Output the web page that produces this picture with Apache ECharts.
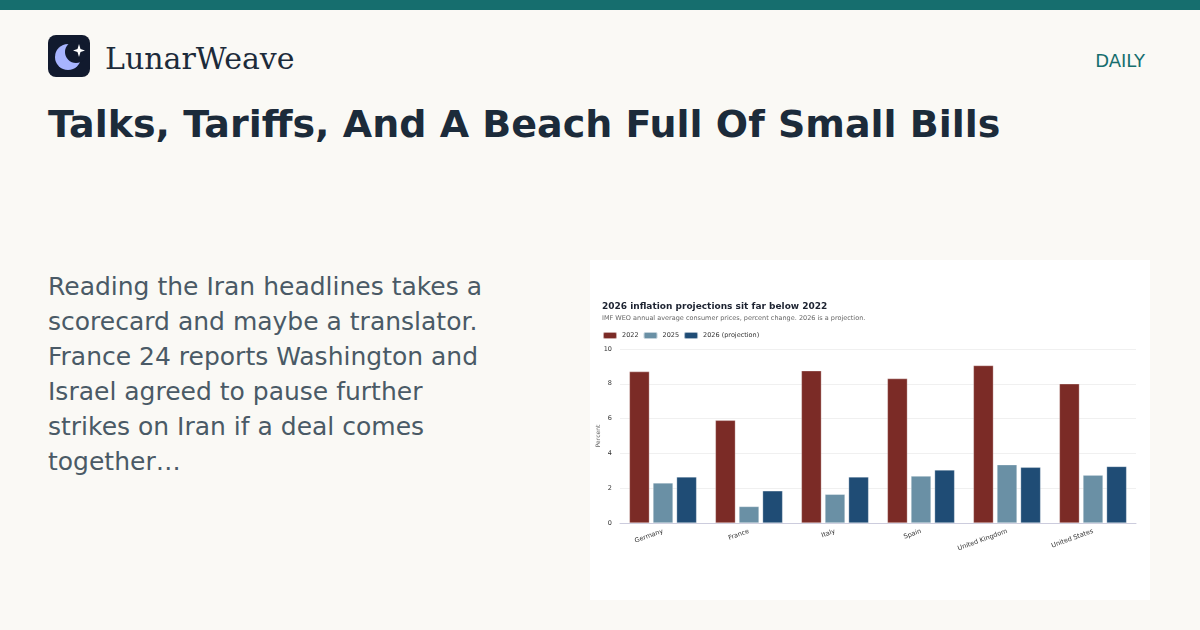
<!DOCTYPE html>
<html><head><meta charset="utf-8">
<script src="https://cdn.jsdelivr.net/npm/echarts@6/dist/echarts.min.js"></script>
<style>
body{margin:0;width:1200px;height:630px;background:#faf9f5;font-family:"DejaVu Sans",sans-serif;position:relative;overflow:hidden}
.bar{position:absolute;left:0;top:0;width:1200px;height:10px;background:#166e6e}
.logo{position:absolute;left:48px;top:35px;width:42px;height:42px;border-radius:8px;background:#111a2e}
.brand{position:absolute;left:105px;top:41px;font-family:"DejaVu Serif",serif;font-size:30px;color:#1c2b3a}
.daily{position:absolute;right:55px;top:50px;font-size:18px;color:#166e6e}
h1{position:absolute;left:48px;top:102px;margin:0;font-size:38px;font-weight:bold;color:#1c2b3a}
.txt{position:absolute;left:48px;top:269px;width:445px;font-size:25px;line-height:35px;color:#4a5a66}
#c{position:absolute;left:590px;top:260px;width:560px;height:340px;background:#fff}
</style></head><body>
<div class="bar"></div>
<div class="logo"><svg width="42" height="42"><circle cx="20" cy="22" r="13" fill="#a7b4ff"/><circle cx="28" cy="17" r="11" fill="#111a2e"/><path d="M31 9 L32.5 14 L37 15.5 L32.5 17 L31 22 L29.5 17 L25 15.5 L29.5 14Z" fill="#fff"/></svg></div>
<div class="brand">LunarWeave</div>
<div class="daily">DAILY</div>
<h1>Talks, Tariffs, And A Beach Full Of Small Bills</h1>
<div class="txt">Reading the Iran headlines takes a scorecard and maybe a translator. France 24 reports Washington and Israel agreed to pause further strikes on Iran if a deal comes together…</div>
<div id="c"></div>
<script>
const categories=["Germany","France","Italy","Spain","United Kingdom","United States"];
const v2022=[8.7,5.9,8.75,8.3,9.05,8.0];
const v2025=[2.3,0.95,1.65,2.7,3.35,2.75];
const v2026=[2.65,1.85,2.65,3.05,3.2,3.25];
const ch=echarts.init(document.getElementById('c'));
const s=(n,d,c)=>({name:n,type:'bar',data:d,barWidth:20,barGap:'18%',itemStyle:{color:c,borderColor:'rgba(255,255,255,0.6)',borderWidth:0.5}});
ch.setOption({
textStyle:{fontFamily:'DejaVu Sans'},
title:{text:'2026 inflation projections sit far below 2022',subtext:'IMF WEO annual average consumer prices, percent change. 2026 is a projection.',left:7,top:37,itemGap:4,textStyle:{fontSize:9,fontWeight:'bold',color:'#1c2230',fontFamily:'DejaVu Sans'},subtextStyle:{fontSize:6.5,color:'#666',fontFamily:'DejaVu Sans'}},
legend:{left:7,top:66,itemWidth:14,itemHeight:7,itemGap:4,icon:'roundRect',textStyle:{fontSize:6.5,color:'#333',fontFamily:'DejaVu Sans'},data:['2022','2025','2026 (projection)']},
grid:{left:30,right:14,top:89,bottom:77,outerBoundsMode:'none'},
graphic:[{type:'text',x:8,y:176,rotation:Math.PI/2,style:{text:'Percent',fontSize:6,fill:'#666',fontFamily:'DejaVu Sans',textAlign:'center',textVerticalAlign:'middle'}}],
xAxis:{type:'category',data:categories,axisTick:{show:false},axisLine:{lineStyle:{color:'#ccd'}},axisLabel:{rotate:20,fontSize:6.5,color:'#333',interval:0}},
yAxis:{type:'value',min:0,max:10,interval:2,axisLabel:{fontSize:6.5,color:'#333'},splitLine:{lineStyle:{color:'#f0f0f0'}}},
series:[s('2022',v2022,'#7b2b26'),s('2025',v2025,'#6a90a5'),s('2026 (projection)',v2026,'#1f4c75')]
});
</script></body></html>
